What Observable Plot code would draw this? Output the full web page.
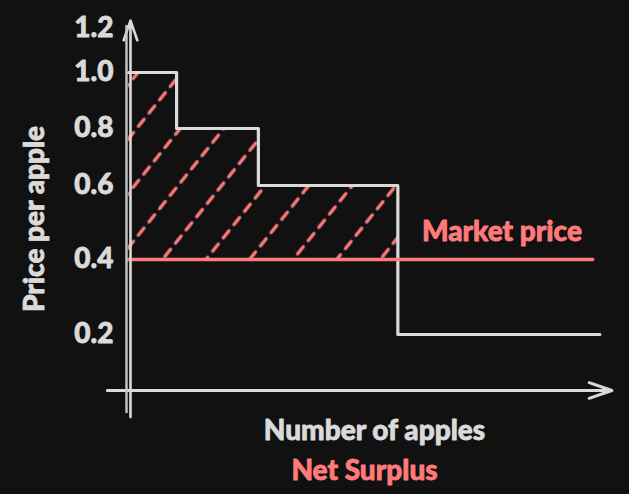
<!DOCTYPE html>
<html><head><meta charset="utf-8">
<script src="https://cdn.jsdelivr.net/npm/d3@7"></script>
<script src="https://cdn.jsdelivr.net/npm/@observablehq/plot@0.6"></script>
<style>
html,body{margin:0;padding:0;background:#111111;}
svg{display:block;}
</style></head><body>
<div id="chart"></div>
<script>
// ---- data ----
const demandQty = [0, 1, 2.7, 5.6, 9.8];
const demandPrice = [1.0, 0.8, 0.6, 0.2, 0.2];
const surplusQty = [0, 1, 2.7, 5.6];
const surplusPrice = [1.0, 0.8, 0.6, 0.6];
const marketPrice = 0.4;
const marketQty = [0, 9.65];
const yTicks = [0.2, 0.4, 0.6, 0.8, 1.0, 1.2];
const yTickLabels = ["0.2", "0.4", "0.6", "0.8", "1.0", "1.2"];
const xAxisExtent = [-0.44, 10.05];
const yAxisExtent = [-0.095, 1.236];
const title = "Net Surplus";
const xLabel = "Number of apples";
const yLabel = "Price per apple";
const marketLabel = "Market price";
const marketLabelQty = 6.1;

// ---- tables ----
const demand = demandQty.map((x, i) => ({x, y: demandPrice[i]}));
const surplus = surplusQty.map((x, i) => ({x, y: surplusPrice[i], base: marketPrice}));
const market = marketQty.map(x => ({x, y: marketPrice}));
const ticks = yTicks.map((y, i) => ({y, label: yTickLabels[i]}));

// hand-drawn axis: the price ticks are unevenly spaced in the reference
const warp = d3.scaleLinear()
  .domain([0, 0.2, 0.4, 0.6, 0.8, 1.0, 1.2])
  .range([0, 56, 131, 205, 262, 318, 362]);

const grey = "#dadada", red = "#ff7b7b";
const font = "Lato, 'Open Sans', sans-serif";
const fs = 28;
const heavy = c => ({fontSize: fs, fontWeight: 900, fill: c, stroke: c, strokeWidth: 0.8});

const chart = Plot.plot({
  width: 629, height: 494,
  marginLeft: 107, marginRight: 18, marginTop: 20, marginBottom: 77,
  style: {background: "#111111", color: grey, fontFamily: font, fontWeight: 900},
  x: {domain: [0, 10], range: [128, 609], axis: null},
  y: {transform: warp, domain: [0, 362], range: [390, 28], axis: null},
  marks: [
    Plot.areaY(surplus, {x: "x", y1: "base", y2: "y", curve: "step-after", fill: "url(#hatch)"}),
    Plot.line(demand, {x: "x", y: "y", curve: "step-after", stroke: grey, strokeWidth: 3.2, strokeLinejoin: "round", strokeLinecap: "round"}),
    Plot.line(market, {x: "x", y: "y", stroke: red, strokeWidth: 3.4, strokeLinecap: "round"}),
    // axes
    Plot.arrow([{x1: xAxisExtent[0], x2: xAxisExtent[1], y1: 0, y2: 0}], {x1: "x1", x2: "x2", y1: "y1", y2: "y2", stroke: grey, strokeWidth: 3, headLength: 12, headAngle: 38}),
    Plot.arrow([{x1: 0, x2: 0, y1: yAxisExtent[0], y2: yAxisExtent[1]}], {x1: "x1", x2: "x2", y1: "y1", y2: "y2", dx: 2, stroke: grey, strokeWidth: 2.6, headLength: 12, headAngle: 38}),
    Plot.link([{x1: 0, x2: 0, y1: yAxisExtent[0] + 0.015, y2: yAxisExtent[1] - 0.02}], {x1: "x1", x2: "x2", y1: "y1", y2: "y2", dx: -2, stroke: "#c8c8c8", strokeWidth: 2.4}),
    // tick labels
    Plot.text(ticks, {x: 0, y: "y", text: "label", textAnchor: "end", dx: -15, ...heavy(grey)}),
    // labels
    Plot.text([marketLabel], {x: () => marketLabelQty, y: () => marketPrice, text: d => d, textAnchor: "start", dy: -27, ...heavy(red)}),
    Plot.text([yLabel], {frameAnchor: "left", textAnchor: "middle", lineAnchor: "middle", text: d => d, rotate: -90, dx: -72, ...heavy(grey)}),
    Plot.text([xLabel], {frameAnchor: "bottom", textAnchor: "middle", lineAnchor: "middle", text: d => d, dx: 15, dy: 14, ...heavy(grey)}),
    Plot.text([title], {frameAnchor: "bottom", textAnchor: "middle", lineAnchor: "middle", text: d => d, dx: 5, dy: 54, ...heavy(red)})
  ]
});

const ns = "http://www.w3.org/2000/svg";
const defs = document.createElementNS(ns, "defs");
defs.innerHTML = `<pattern id="hatch" patternUnits="userSpaceOnUse" width="34" height="17" patternTransform="rotate(38.7)"><line x1="17" y1="3" x2="17" y2="12" stroke="${red}" stroke-width="3.3" stroke-linecap="round"/></pattern>`;
chart.insertBefore(defs, chart.firstChild);
document.getElementById("chart").appendChild(chart);
</script>
</body></html>
